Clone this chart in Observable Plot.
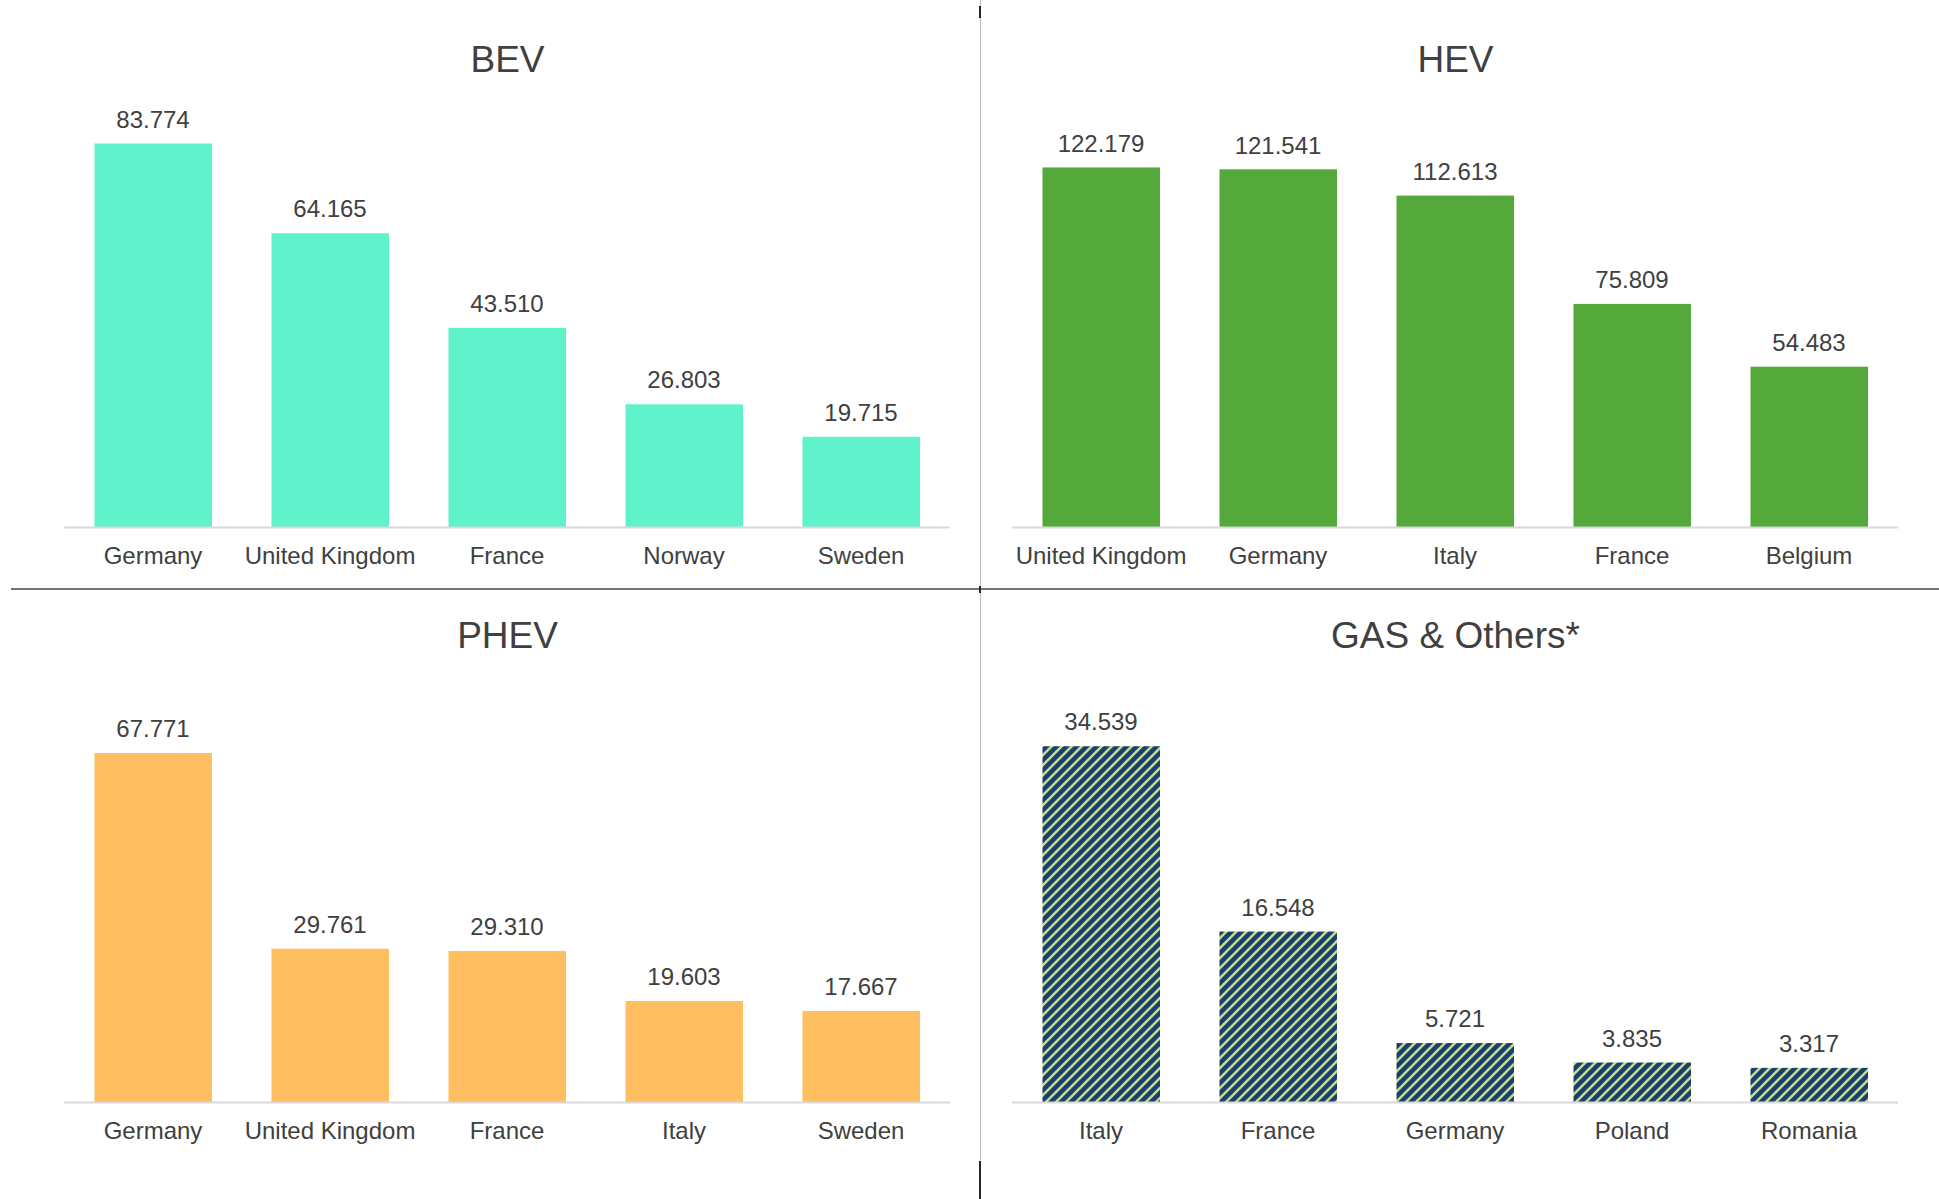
<!DOCTYPE html>
<html>
<head>
<meta charset="utf-8">
<script src="https://cdn.jsdelivr.net/npm/d3@7"></script>
<script src="https://cdn.jsdelivr.net/npm/@observablehq/plot@0.6"></script>
<style>
  body { margin: 0; background: #fff; }
  #root { position: relative; width: 1939px; height: 1199px; overflow: hidden; background: #fff;
          font-family: "Liberation Sans", Arial, sans-serif; }
  .panel { position: absolute; }
  .rule { position: absolute; }
</style>
</head>
<body>
<div id="root"></div>
<script>
// ---- data ----
const bevCountries = ["Germany", "United Kingdom", "France", "Norway", "Sweden"];
const bevValues = [83774, 64165, 43510, 26803, 19715];

const hevCountries = ["United Kingdom", "Germany", "Italy", "France", "Belgium"];
const hevValues = [122179, 121541, 112613, 75809, 54483];

const phevCountries = ["Germany", "United Kingdom", "France", "Italy", "Sweden"];
const phevValues = [67771, 29761, 29310, 19603, 17667];

const gasCountries = ["Italy", "France", "Germany", "Poland", "Romania"];
const gasValues = [34539, 16548, 5721, 3835, 3317];

const panelTitles = ["BEV", "HEV", "PHEV", "GAS & Others*"];
const axisMax = [90000, 140000, 80000, 40000];

// ---- helpers ----
const fmt = d3.formatLocale({decimal: ",", thousands: ".", grouping: [3], currency: ["", "€"]}).format(",d");
const FONT = '"Liberation Sans", Arial, sans-serif';
const TEXT = "#404040";
const root = document.getElementById("root");

function makePanel(cfg) {
  const data = cfg.countries.map((c, i) => ({country: c, value: cfg.values[i]}));
  const svg = Plot.plot({
    width: cfg.width,
    height: cfg.height,
    marginLeft: cfg.ml,
    marginRight: cfg.mr,
    marginTop: cfg.mt,
    marginBottom: cfg.mb,
    style: {fontFamily: FONT, fontSize: "24px", color: TEXT, background: "transparent", overflow: "visible"},
    x: {domain: cfg.countries, padding: 0, label: null},
    y: {domain: [0, cfg.yMax], axis: null},
    marks: [
      Plot.barY(data, {x: "country", y: "value", fill: cfg.fill, insetLeft: 29.5, insetRight: 30}),
      Plot.ruleY([0], {stroke: "#d9d9d9", strokeWidth: 2}),
      Plot.text(data, {x: "country", y: "value", text: d => fmt(d.value), dy: -24, dx: -1,
                       fill: TEXT, fontSize: 24, fontFamily: FONT}),
      Plot.axisX({tickSize: 0, tickPadding: 19, fontSize: 24, fontFamily: FONT, color: TEXT, label: null, dx: -1}),
      Plot.text([cfg.title], {frameAnchor: "top", lineAnchor: "middle", text: d => d, dy: cfg.titleDy,
                              fontSize: 37, fill: TEXT, fontFamily: FONT})
    ]
  });
  if (cfg.pattern) {
    d3.select(svg).insert("defs", ":first-child").html(
      `<pattern id="hatch" patternUnits="userSpaceOnUse" width="10" height="10">
         <rect width="10" height="10" fill="#17406B"/>
         <path d="M-2.5,2.5 L2.5,-2.5 M0,10 L10,0 M7.5,12.5 L12.5,7.5" stroke="#C4D79B" stroke-width="2.6"/>
       </pattern>`);
  }
  const div = document.createElement("div");
  div.className = "panel";
  div.style.left = cfg.left + "px";
  div.style.top = cfg.top + "px";
  div.appendChild(svg);
  root.appendChild(div);
}

makePanel({title: panelTitles[0], countries: bevCountries, values: bevValues, yMax: axisMax[0], fill: "#60F2CB",
           left: 0, top: 0, width: 979, height: 589, ml: 64, mr: 29, mt: 115, mb: 62, titleDy: -55});
makePanel({title: panelTitles[1], countries: hevCountries, values: hevValues, yMax: axisMax[1], fill: "#55A83A",
           left: 979, top: 0, width: 960, height: 589, ml: 33, mr: 41, mt: 115, mb: 62, titleDy: -55});
makePanel({title: panelTitles[2], countries: phevCountries, values: phevValues, yMax: axisMax[2], fill: "#FFBE5F",
           left: 0, top: 589, width: 979, height: 610, ml: 64, mr: 29, mt: 101, mb: 97, titleDy: -54});
makePanel({title: panelTitles[3], countries: gasCountries, values: gasValues, yMax: axisMax[3], fill: "url(#hatch)",
           pattern: true,
           left: 979, top: 589, width: 960, height: 610, ml: 33, mr: 41, mt: 101, mb: 97, titleDy: -54});

// ---- dividers ----
function rule(left, top, width, height, color) {
  const d = document.createElement("div");
  d.className = "rule";
  Object.assign(d.style, {left: left + "px", top: top + "px", width: width + "px", height: height + "px", background: color});
  root.appendChild(d);
}
rule(980, 0, 1, 1199, "#bfbfbf");
rule(11, 588, 1928, 2, "#747474");
rule(979, 6, 1.5, 12, "#262626");
rule(979, 586, 1.5, 7, "#262626");
rule(979, 1161, 1.5, 38, "#262626");
</script>
</body>
</html>
